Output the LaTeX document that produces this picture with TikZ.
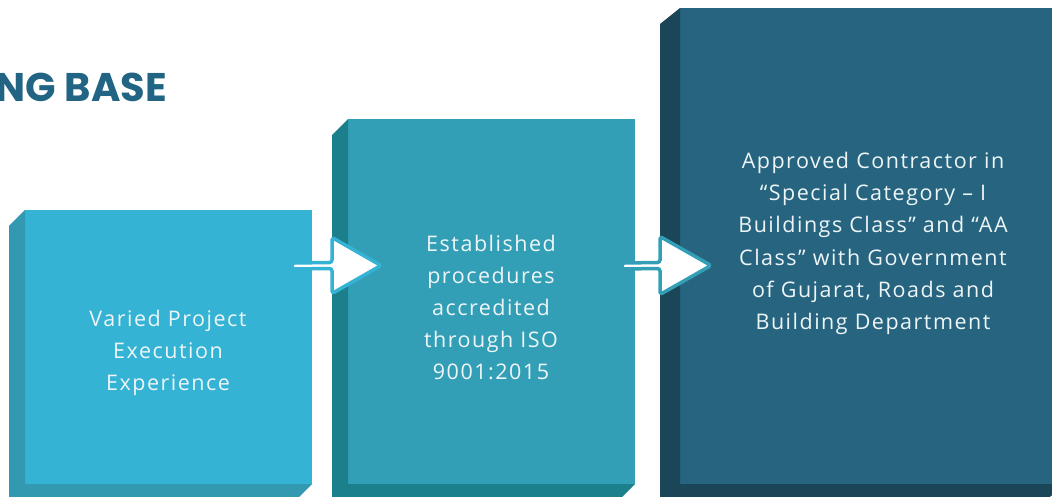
\documentclass[tikz,border=0pt]{standalone}
\usepackage{fontspec}
\setmainfont{Fira Sans}
\newfontfamily\bodyfont[LetterSpace=7]{Open Sans}
\newfontfamily\titlefont{Poppins}
\usetikzlibrary{calc}
\definecolor{frontA}{HTML}{34B3D4}
\definecolor{sideA}{HTML}{3399B1}
\definecolor{frontB}{HTML}{339FB6}
\definecolor{sideB}{HTML}{1B808C}
\definecolor{frontC}{HTML}{26647F}
\definecolor{sideC}{HTML}{1A4657}
\definecolor{titlecol}{HTML}{216483}
\definecolor{txtcol}{HTML}{EEF5F7}
\tikzset{
  face/.style={inner sep=0pt, outer sep=0pt, anchor=north west},
  boxtxt/.style={align=center, text=txtcol, font=\bodyfont\fontsize{21.5}{32.2}\selectfont, inner sep=0pt},
  flowarrow/.style={line width=3.5pt, fill=white, line join=round, rounded corners=2.5pt},
}
\newcommand\sidepoly[4]{% name, dx, dy, color
  \fill[#4] ($(#1.north west)+(-#2,#3)$) -- (#1.north west) -- (#1.south west) -- (#1.south east)
    -- ($(#1.south east)+(-#2,#3)$) -- ($(#1.south west)+(-#2,#3)$) -- cycle;}
\begin{document}
\begin{tikzpicture}[x=1pt,y=-1pt]
\useasboundingbox (0,0) rectangle (1052,497);
\clip (0,0) rectangle (1052,497);
% fronts
\node[face, fill=frontA, minimum width=287pt, minimum height=274pt] (b1) at (25,210) {};
\node[face, fill=frontB, minimum width=287pt, minimum height=365pt] (b2) at (348,119) {};
\node[face, fill=frontC, minimum width=386pt, minimum height=476pt] (b3) at (680,8) {};
\sidepoly{b1}{16}{16}{sideA}
\sidepoly{b2}{16}{16}{sideB}
\sidepoly{b3}{20}{16}{sideC}
% title
\node[anchor=base east, inner sep=0pt, text=titlecol, font=\titlefont\fontsize{40}{44}\selectfont\bfseries] (title) at (167,101.5) {NG BASE};
% texts
\node[boxtxt] (t1) at (168,353) {Varied Project\\Execution\\Experience};
\node[boxtxt] (t2) at (491,307.5) {Established\\procedures\\accredited\\through ISO\\9001:2015};
\node[boxtxt] (t3) at (873,243.5) {Approved Contractor in\\“Special Category – I\\Buildings Class” and “AA\\Class” with Government\\of Gujarat, Roads and\\Building Department};
% arrows
\coordinate (a1s) at (292,266);
\coordinate (a1t) at (381,265.5);
\coordinate (a2s) at (622,266);
\coordinate (a2t) at (711,265.5);
\draw[flowarrow, draw=frontA] ($(a1s)+(0,-3)$) -- ($(a1t)+(-49,-3)$) -- ($(a1t)+(-49,-28)$) -- (a1t)
  -- ($(a1t)+(-49,28)$) -- ($(a1t)+(-49,3)$) -- ($(a1s)+(0,3)$) -- cycle;
\draw[flowarrow, draw=frontB] ($(a2s)+(0,-3)$) -- ($(a2t)+(-51,-3)$) -- ($(a2t)+(-51,-29)$) -- (a2t)
  -- ($(a2t)+(-51,29)$) -- ($(a2t)+(-51,3)$) -- ($(a2s)+(0,3)$) -- cycle;
\end{tikzpicture}
\end{document}
